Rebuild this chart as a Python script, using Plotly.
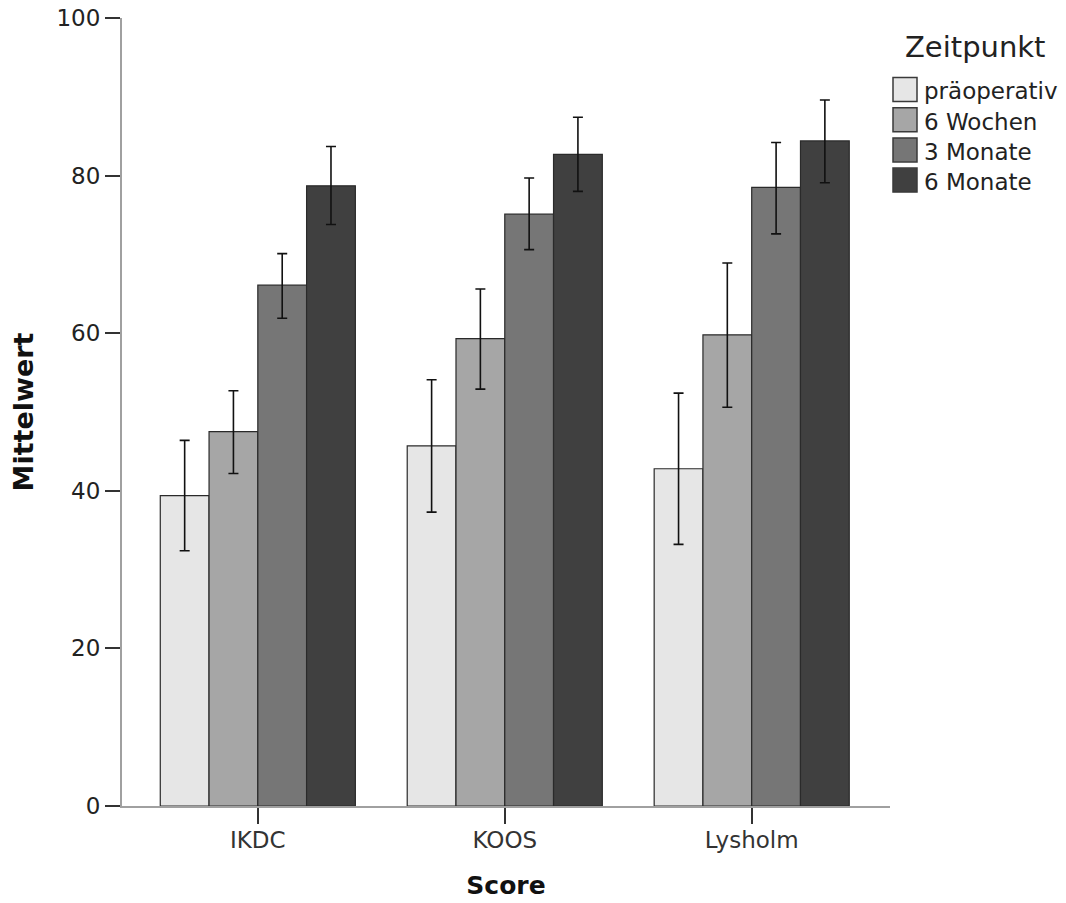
import plotly.graph_objects as go

categories = ["IKDC", "KOOS", "Lysholm"]
series_names = ["präoperativ", "6 Wochen", "3 Monate", "6 Monate"]
means = {
    "präoperativ": [39.4, 45.7, 42.8],
    "6 Wochen": [47.5, 59.3, 59.8],
    "3 Monate": [66.1, 75.1, 78.5],
    "6 Monate": [78.7, 82.7, 84.4],
}
upper = {
    "präoperativ": [46.4, 54.1, 52.4],
    "6 Wochen": [52.7, 65.6, 68.9],
    "3 Monate": [70.1, 79.7, 84.2],
    "6 Monate": [83.7, 87.4, 89.6],
}
lower = {
    "präoperativ": [32.4, 37.3, 33.2],
    "6 Wochen": [42.2, 52.9, 50.6],
    "3 Monate": [61.9, 70.6, 72.6],
    "6 Monate": [73.8, 78.0, 79.1],
}
colors = ["#e6e6e6", "#a6a6a6", "#767676", "#404040"]
y_ticks = [0, 20, 40, 60, 80, 100]
legend_title = "Zeitpunkt"

FONT = "DejaVu Sans"
W, H = 1066, 903
ML, MT, MR, MB = 122, 18, 176, 97
PW, PH = W - ML - MR, H - MT - MB


def px(vx):
    return (vx - ML) / PW


def py(vy):
    return 1 - (vy - MT) / PH


fig = go.Figure()
for name, col in zip(series_names, colors):
    m = means[name]
    up = [u - v for u, v in zip(upper[name], m)]
    lo = [v - l for v, l in zip(m, lower[name])]
    fig.add_trace(go.Bar(
        x=categories, y=m, name=name, showlegend=False,
        marker=dict(color=col, line=dict(color="#2a2a2a", width=1.2)),
        error_y=dict(type="data", symmetric=False, array=up, arrayminus=lo,
                     color="#111111", thickness=1.6, width=5),
    ))

# legend drawn with shapes + text
shapes = []
annotations = [dict(
    text=legend_title, xref="paper", yref="paper", x=px(903), y=py(46.5),
    xanchor="left", yanchor="middle", showarrow=False,
    font=dict(size=29, family=FONT, color="#222222"),
)]
for i, (name, col) in enumerate(zip(series_names, colors)):
    top = 77.5 + 30.2 * i
    shapes.append(dict(
        type="rect", xref="paper", yref="paper",
        x0=px(893), x1=px(917), y0=py(top), y1=py(top + 24),
        fillcolor=col, line=dict(color="#3a3a3a", width=1.5),
    ))
    annotations.append(dict(
        text=name, xref="paper", yref="paper", x=px(922), y=py(top + 14),
        xanchor="left", yanchor="middle", showarrow=False,
        font=dict(size=23, family=FONT, color="#222222"),
    ))

fig.update_layout(
    barmode="group", bargap=0.21, bargroupgap=0,
    width=W, height=H,
    margin=dict(l=ML, r=MR, t=MT, b=MB, autoexpand=False),
    paper_bgcolor="white", plot_bgcolor="white",
    font=dict(family=FONT, color="#222222"),
    showlegend=False,
    shapes=shapes, annotations=annotations,
)
fig.update_xaxes(
    range=[-0.55, 2.56], automargin=False,
    showline=True, linecolor="#a0a0a0", linewidth=2,
    ticks="outside", ticklen=16, tickcolor="#333333", tickwidth=1.5,
    ticklabelstandoff=-4,
    tickfont=dict(size=23, family=FONT, color="#333333"),
    title=dict(text="<b>Score</b>", font=dict(size=25, family=FONT, color="#111111"), standoff=25),
    showgrid=False, zeroline=False,
)
fig.update_yaxes(
    range=[0, 100], tickvals=y_ticks, automargin=False,
    ticklabeloverflow="allow",
    showline=True, linecolor="#a0a0a0", linewidth=2,
    ticks="outside", ticklen=15, tickcolor="#333333", tickwidth=1.5,
    tickfont=dict(size=23, family=FONT, color="#222222"),
    title=dict(text="<b>Mittelwert</b>", font=dict(size=27, family=FONT, color="#111111"), standoff=15),
    showgrid=False, zeroline=False,
)

fig.write_html("out.html", config={"displayModeBar": False},
               post_script="document.body.style.margin='0';")
